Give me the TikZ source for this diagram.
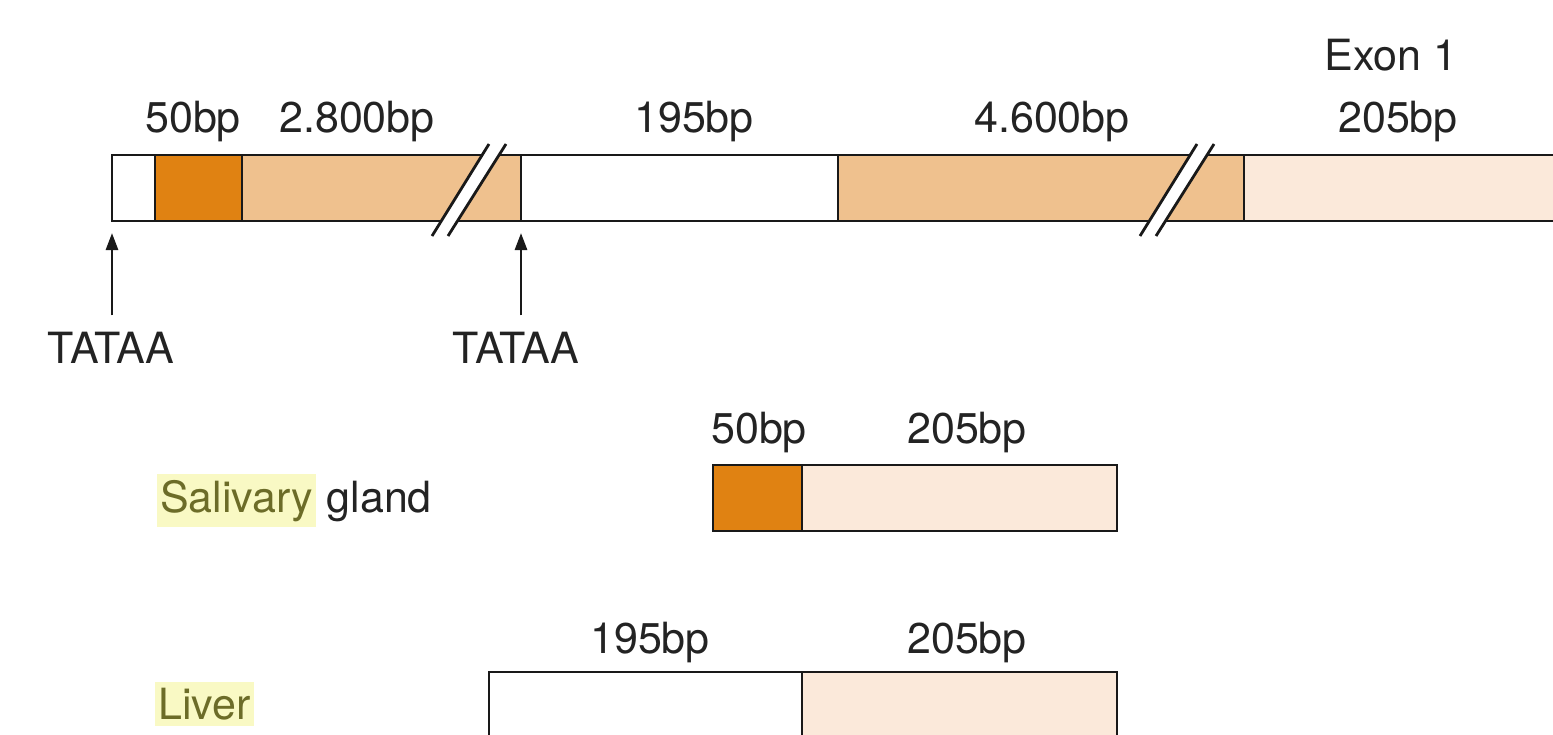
\documentclass[tikz,border=0pt]{standalone}
\usepackage{fontspec}
\setmainfont{TeX Gyre Heros}
\usepackage{tikz}
\usetikzlibrary{arrows.meta,positioning}

\definecolor{promdark}{RGB}{224,130,18}
\definecolor{intronor}{RGB}{239,193,142}
\definecolor{exonpale}{RGB}{251,233,218}
\definecolor{hlyellow}{RGB}{249,249,196}
\definecolor{hlolive}{RGB}{108,108,40}
\definecolor{txtdark}{RGB}{35,35,35}

\begin{document}
\begin{tikzpicture}[
   x=1pt,y=-1pt,
   >={Triangle[length=17pt,width=12pt]},
   seg/.style={draw=black!90,line width=2.8pt,inner sep=0pt,outer sep=0pt,
               minimum height=66pt,anchor=north west},
   lbl/.style={font=\fontsize{43}{50}\selectfont,text=txtdark,inner sep=2pt},
   hl/.style={lbl,fill=hlyellow,text=hlolive,inner xsep=3pt,inner ysep=6pt},
   arr/.style={->,line width=2.8pt,black!90},
   brk/.style={line width=2.8pt,black!90}
  ]
  \clip (0,0) rectangle (1553,734);
  \fill[white] (0,0) rectangle (1553,734);

  % gene with both promoters
  \node[seg,fill=white,minimum width=43pt]     (w1) at (112,155)  {};
  \node[seg,fill=promdark,minimum width=87pt]  (d1) at (155,155)  {};
  \node[seg,fill=intronor,minimum width=279pt] (l1) at (242,155)  {};
  \node[seg,fill=white,minimum width=317pt]    (w2) at (521,155)  {};
  \node[seg,fill=intronor,minimum width=406pt] (l2) at (838,155)  {};
  \node[seg,fill=exonpale,minimum width=340pt] (p1) at (1244,155) {};

  \foreach \bx in {432,1140} {
    \fill[white] (\bx,236) -- (\bx+57,144) -- (\bx+74,144) -- (\bx+16,236) -- cycle;
    \draw[brk] (\bx,236) -- (\bx+57,144) (\bx+16,236) -- (\bx+74,144);
  }

  \node[lbl,anchor=base] (e1)  at (1391,70)  {Exon 1};
  \node[lbl,anchor=base] (b50) at (193,132)  {50bp};
  \node[lbl,anchor=base] (b28) at (357,132)  {2.800bp};
  \node[lbl,anchor=base] (b19) at (694,132)  {195bp};
  \node[lbl,anchor=base] (b46) at (1052,132) {4.600bp};
  \node[lbl,anchor=base] (b20) at (1398,132) {205bp};

  \node[lbl,anchor=base] (t1) at (111,363) {TATAA};
  \node[lbl,anchor=base] (t2) at (516,363) {TATAA};
  \draw[arr,shorten <=14pt,shorten >=12pt] (w1.south west |- t1.north) -- (w1.south west);
  \draw[arr,shorten <=14pt,shorten >=12pt] (w2.south west |- t2.north) -- (w2.south west);

  % salivary gland transcript
  \node[seg,fill=promdark,minimum width=89pt]  (s1) at (713,465) {};
  \node[seg,fill=exonpale,minimum width=315pt] (s2) at (802,465) {};
  \node[lbl,anchor=base] (s50)  at (759,443) {50bp};
  \node[lbl,anchor=base] (s205) at (967,443) {205bp};
  \node[hl,anchor=base west] (sal) at (157,512) {Salivary};
  \node[lbl,base right=8pt of sal] (gland) {gland};

  % liver transcript
  \node[seg,fill=white,minimum width=313pt,minimum height=90pt]    (v1) at (489,672) {};
  \node[seg,fill=exonpale,minimum width=315pt,minimum height=90pt] (v2) at (802,672) {};
  \node[lbl,anchor=base] (v195) at (650,653) {195bp};
  \node[lbl,anchor=base] (v205) at (967,653) {205bp};
  \node[hl,anchor=base west] (liv) at (155,719) {Liver};
\end{tikzpicture}
\end{document}
